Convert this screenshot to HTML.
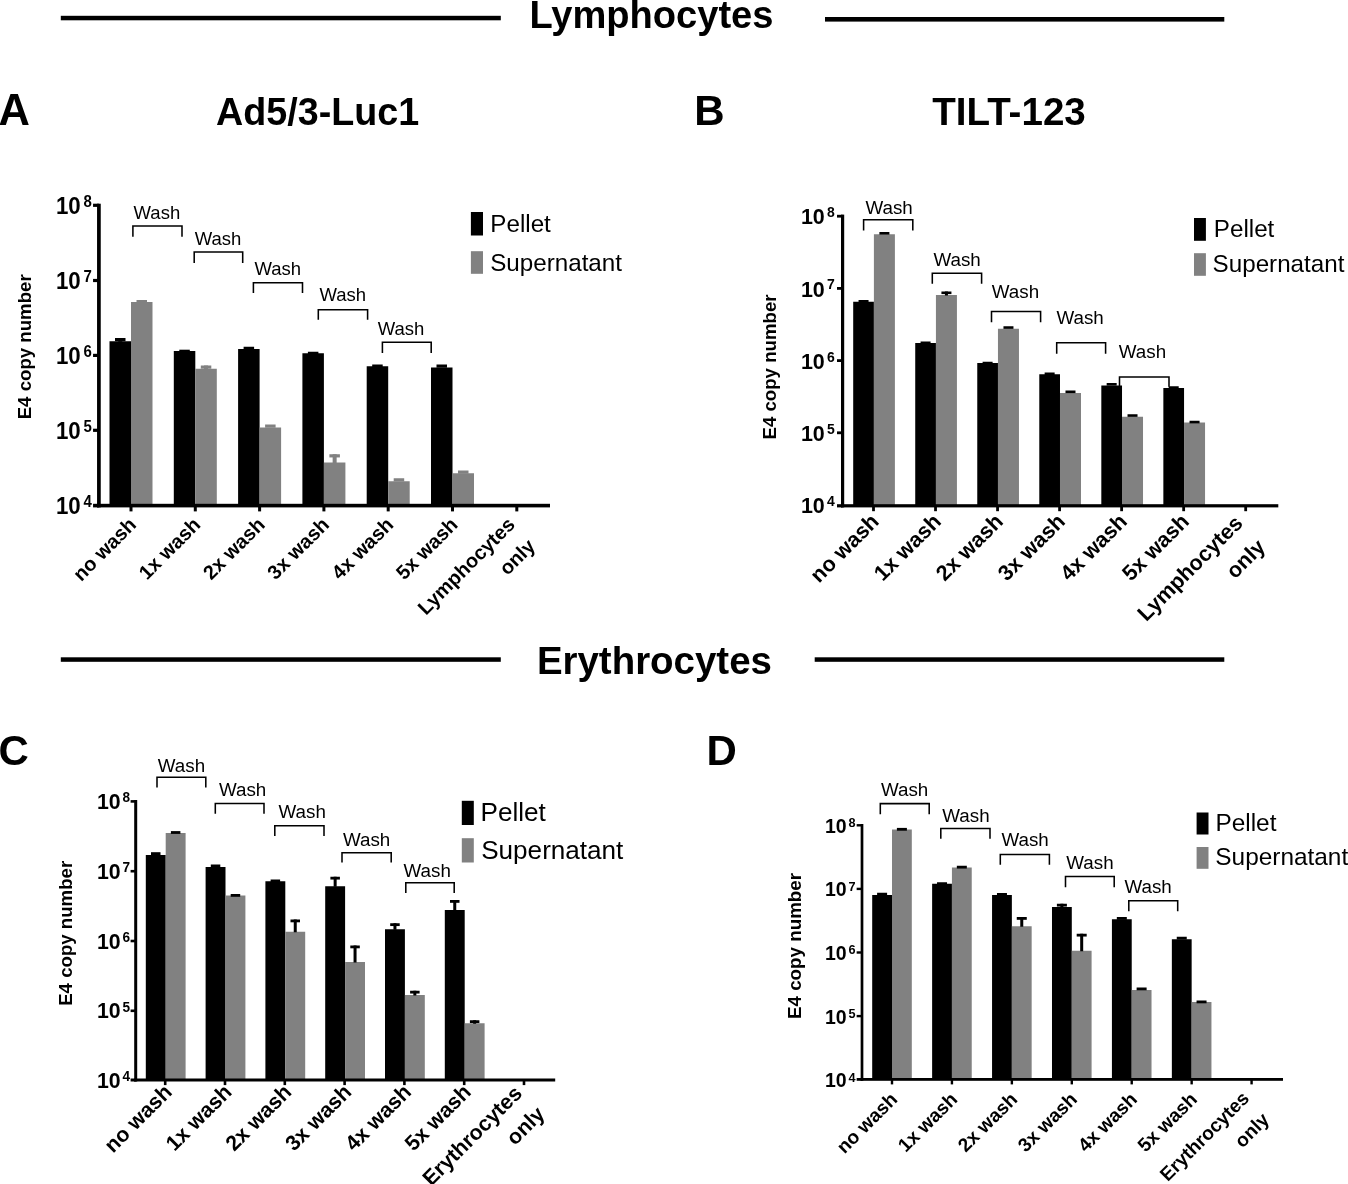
<!DOCTYPE html>
<html lang="en">
<head>
<meta charset="utf-8">
<title>E4 copy number after washing: lymphocytes and erythrocytes</title>
<style>
html,body{margin:0;padding:0;background:#fff;}
body{width:1348px;height:1184px;overflow:hidden;}
svg{display:block;}
svg text{font-family:"Liberation Sans",Arial,Helvetica,sans-serif;fill:#000;}
</style>
</head>
<body>
<svg width="1348" height="1184" viewBox="0 0 1348 1184" shape-rendering="auto">
<rect x="0" y="0" width="1348" height="1184" fill="#fff"/>
<rect x="60.8" y="15.8" width="440" height="4.5" fill="#000"/>
<rect x="825" y="17" width="399.3" height="4.6" fill="#000"/>
<text x="529.4" y="28.2" font-size="38.1" font-weight="bold">Lymphocytes</text>
<rect x="60.8" y="657.3" width="440" height="4.5" fill="#000"/>
<rect x="814.7" y="657.3" width="409.6" height="4.5" fill="#000"/>
<text x="536.9" y="674.3" font-size="38.45" font-weight="bold">Erythrocytes</text>
<text transform="translate(-1.5 125) scale(1 1.02)" font-size="43.5" font-weight="bold">A</text>
<text transform="translate(694.3 124.8) scale(1 1.03)" font-size="42" font-weight="bold">B</text>
<text transform="translate(-1.5 764.8) scale(1 1.03)" font-size="42" font-weight="bold">C</text>
<text transform="translate(706.5 764.6) scale(1 1.03)" font-size="42" font-weight="bold">D</text>
<text transform="translate(216 125.3) scale(1 1.05)" font-size="37.7" font-weight="bold">Ad5/3-Luc1</text>
<text x="932.2" y="124.7" font-size="38.6" font-weight="bold">TILT-123</text>
<rect x="109.5" y="341.25" width="21.5" height="164.35" fill="#000"/>
<rect x="115" y="338" width="10.5" height="3.2" fill="#000"/>
<rect x="118.25" y="338" width="4" height="3.75" fill="#000"/>
<rect x="131" y="302" width="21.5" height="203.6" fill="#818181"/>
<rect x="136.5" y="300" width="10.5" height="3.2" fill="#818181"/>
<rect x="173.8" y="351" width="21.5" height="154.6" fill="#000"/>
<rect x="179.3" y="349.7" width="10.5" height="3.2" fill="#000"/>
<rect x="195.3" y="368.75" width="21.5" height="136.85" fill="#818181"/>
<rect x="200.8" y="365.5" width="10.5" height="3.2" fill="#818181"/>
<rect x="204.05" y="365.5" width="4" height="3.75" fill="#818181"/>
<rect x="238.1" y="349" width="21.5" height="156.6" fill="#000"/>
<rect x="243.6" y="346.75" width="10.5" height="3.2" fill="#000"/>
<rect x="259.6" y="427.5" width="21.5" height="78.1" fill="#818181"/>
<rect x="265.1" y="424.5" width="10.5" height="3.2" fill="#818181"/>
<rect x="302.4" y="353.25" width="21.5" height="152.35" fill="#000"/>
<rect x="307.9" y="351.75" width="10.5" height="3.2" fill="#000"/>
<rect x="323.9" y="462.5" width="21.5" height="43.1" fill="#818181"/>
<rect x="329.4" y="454.25" width="10.5" height="3.2" fill="#818181"/>
<rect x="332.65" y="454.25" width="4" height="8.75" fill="#818181"/>
<rect x="366.7" y="366.25" width="21.5" height="139.35" fill="#000"/>
<rect x="372.2" y="364.5" width="10.5" height="3.2" fill="#000"/>
<rect x="388.2" y="481.25" width="21.5" height="24.35" fill="#818181"/>
<rect x="393.7" y="478.25" width="10.5" height="3.2" fill="#818181"/>
<rect x="431" y="367.5" width="21.5" height="138.1" fill="#000"/>
<rect x="436.5" y="364.5" width="10.5" height="3.2" fill="#000"/>
<rect x="452.5" y="473.25" width="21.5" height="32.35" fill="#818181"/>
<rect x="458" y="470.5" width="10.5" height="3.2" fill="#818181"/>
<rect x="97.05" y="203.7" width="3.7" height="303.7" fill="#000"/>
<rect x="97.05" y="503.8" width="452.95" height="3.6" fill="#000"/>
<rect x="93.05" y="203.7" width="5.85" height="3.2" fill="#000"/>
<text transform="translate(55.9 213.8) scale(1 1.045)" font-size="22.3" font-weight="bold">10<tspan dx="2.8" dy="-6.99" font-size="15">8</tspan></text>
<rect x="93.05" y="278.9" width="5.85" height="3.2" fill="#000"/>
<text transform="translate(55.9 289) scale(1 1.045)" font-size="22.3" font-weight="bold">10<tspan dx="2.8" dy="-6.99" font-size="15">7</tspan></text>
<rect x="93.05" y="353.8" width="5.85" height="3.2" fill="#000"/>
<text transform="translate(55.9 363.9) scale(1 1.045)" font-size="22.3" font-weight="bold">10<tspan dx="2.8" dy="-6.99" font-size="15">6</tspan></text>
<rect x="93.05" y="428.7" width="5.85" height="3.2" fill="#000"/>
<text transform="translate(55.9 438.8) scale(1 1.045)" font-size="22.3" font-weight="bold">10<tspan dx="2.8" dy="-6.99" font-size="15">5</tspan></text>
<rect x="93.05" y="503.8" width="5.85" height="3.6" fill="#000"/>
<text transform="translate(55.9 513.8) scale(1 1.045)" font-size="22.3" font-weight="bold">10<tspan dx="2.8" dy="-6.99" font-size="15">4</tspan></text>
<rect x="129.5" y="505.6" width="3" height="5.8" fill="#000"/>
<text transform="translate(137.4 525.9) rotate(-45)" font-size="19.9" font-weight="bold" text-anchor="end">no wash</text>
<rect x="193.8" y="505.6" width="3" height="5.8" fill="#000"/>
<text transform="translate(201.7 525.9) rotate(-45)" font-size="19.9" font-weight="bold" text-anchor="end">1x wash</text>
<rect x="258.1" y="505.6" width="3" height="5.8" fill="#000"/>
<text transform="translate(266 525.9) rotate(-45)" font-size="19.9" font-weight="bold" text-anchor="end">2x wash</text>
<rect x="322.4" y="505.6" width="3" height="5.8" fill="#000"/>
<text transform="translate(330.3 525.9) rotate(-45)" font-size="19.9" font-weight="bold" text-anchor="end">3x wash</text>
<rect x="386.7" y="505.6" width="3" height="5.8" fill="#000"/>
<text transform="translate(394.6 525.9) rotate(-45)" font-size="19.9" font-weight="bold" text-anchor="end">4x wash</text>
<rect x="451" y="505.6" width="3" height="5.8" fill="#000"/>
<text transform="translate(458.9 525.9) rotate(-45)" font-size="19.9" font-weight="bold" text-anchor="end">5x wash</text>
<rect x="515.3" y="505.6" width="3" height="5.8" fill="#000"/>
<text transform="translate(516.1 525.8) rotate(-45)" font-size="19.9" font-weight="bold" text-anchor="end">Lymphocytes</text>
<text transform="translate(536.3 547.4) rotate(-45)" font-size="19.9" font-weight="bold" text-anchor="end">only</text>
<text transform="translate(30.9 346.8) rotate(-90)" font-size="18.65" font-weight="bold" text-anchor="middle">E4 copy number</text>
<path d="M132.9 236.8V225.9H182V236.8" fill="none" stroke="#000" stroke-width="1.55"/>
<text x="133.6" y="218.8" font-size="18.5">Wash</text>
<path d="M194.2 263V252H242.7V263" fill="none" stroke="#000" stroke-width="1.55"/>
<text x="194.8" y="244.5" font-size="18.5">Wash</text>
<path d="M253.4 293V282.8H302.5V293" fill="none" stroke="#000" stroke-width="1.55"/>
<text x="254.4" y="275" font-size="18.5">Wash</text>
<path d="M318.3 319.8V309.8H367.6V319.8" fill="none" stroke="#000" stroke-width="1.55"/>
<text x="319.4" y="300.75" font-size="18.5">Wash</text>
<path d="M382.4 353V342.3H431.2V353" fill="none" stroke="#000" stroke-width="1.55"/>
<text x="377.8" y="335" font-size="18.5">Wash</text>
<rect x="470.9" y="212" width="12.1" height="23.5" fill="#000"/>
<rect x="470.9" y="251.2" width="12.1" height="22.6" fill="#818181"/>
<text x="490.3" y="231.75" font-size="24.2">Pellet</text>
<text x="490.2" y="270.5" font-size="24.2">Supernatant</text>
<rect x="853.2" y="301.75" width="20.7" height="204.05" fill="#000"/>
<rect x="858.55" y="300" width="10" height="2.6" fill="#000"/>
<rect x="873.9" y="234.25" width="21" height="271.55" fill="#818181"/>
<rect x="879.4" y="232" width="10" height="2.6" fill="#000"/>
<rect x="915.23" y="343" width="20.7" height="162.8" fill="#000"/>
<rect x="920.58" y="341.5" width="10" height="2.6" fill="#000"/>
<rect x="935.93" y="295" width="21" height="210.8" fill="#818181"/>
<rect x="941.43" y="291.5" width="10" height="2.6" fill="#000"/>
<rect x="944.93" y="291.5" width="3" height="4" fill="#000"/>
<rect x="977.26" y="363" width="20.7" height="142.8" fill="#000"/>
<rect x="982.61" y="361.75" width="10" height="2.6" fill="#000"/>
<rect x="997.96" y="328.75" width="21" height="177.05" fill="#818181"/>
<rect x="1003.46" y="326.25" width="10" height="2.6" fill="#000"/>
<rect x="1039.29" y="374.25" width="20.7" height="131.55" fill="#000"/>
<rect x="1044.64" y="372.5" width="10" height="2.6" fill="#000"/>
<rect x="1059.99" y="393" width="21" height="112.8" fill="#818181"/>
<rect x="1065.49" y="390.5" width="10" height="2.6" fill="#000"/>
<rect x="1101.32" y="385.5" width="20.7" height="120.3" fill="#000"/>
<rect x="1106.67" y="383" width="10" height="2.6" fill="#000"/>
<rect x="1122.02" y="416.75" width="21" height="89.05" fill="#818181"/>
<rect x="1127.52" y="414.25" width="10" height="2.6" fill="#000"/>
<rect x="1163.35" y="388" width="20.7" height="117.8" fill="#000"/>
<rect x="1168.7" y="386.25" width="10" height="2.6" fill="#000"/>
<rect x="1184.05" y="422.5" width="21" height="83.3" fill="#818181"/>
<rect x="1189.55" y="420.75" width="10" height="2.6" fill="#000"/>
<rect x="841" y="214.6" width="3.2" height="292.8" fill="#000"/>
<rect x="841" y="504.2" width="437.3" height="3.2" fill="#000"/>
<rect x="837" y="214.8" width="5.6" height="2.8" fill="#000"/>
<text transform="translate(800.9 224.4) scale(1 1.045)" font-size="21.5" font-weight="bold">10<tspan dx="2.3" dy="-6.89" font-size="14">8</tspan></text>
<rect x="837" y="287" width="5.6" height="2.8" fill="#000"/>
<text transform="translate(800.9 296.6) scale(1 1.045)" font-size="21.5" font-weight="bold">10<tspan dx="2.3" dy="-6.89" font-size="14">7</tspan></text>
<rect x="837" y="359.2" width="5.6" height="2.8" fill="#000"/>
<text transform="translate(800.9 368.8) scale(1 1.045)" font-size="21.5" font-weight="bold">10<tspan dx="2.3" dy="-6.89" font-size="14">6</tspan></text>
<rect x="837" y="431.4" width="5.6" height="2.8" fill="#000"/>
<text transform="translate(800.9 441) scale(1 1.045)" font-size="21.5" font-weight="bold">10<tspan dx="2.3" dy="-6.89" font-size="14">5</tspan></text>
<rect x="837" y="504.2" width="5.6" height="3.2" fill="#000"/>
<text transform="translate(800.9 513.2) scale(1 1.045)" font-size="21.5" font-weight="bold">10<tspan dx="2.3" dy="-6.89" font-size="14">4</tspan></text>
<rect x="872.1" y="505.8" width="2.8" height="5.4" fill="#000"/>
<text transform="translate(880.2 522.6) rotate(-45)" font-size="21.6" font-weight="bold" text-anchor="end">no wash</text>
<rect x="934.13" y="505.8" width="2.8" height="5.4" fill="#000"/>
<text transform="translate(942.23 522.6) rotate(-45)" font-size="21.6" font-weight="bold" text-anchor="end">1x wash</text>
<rect x="996.16" y="505.8" width="2.8" height="5.4" fill="#000"/>
<text transform="translate(1004.26 522.6) rotate(-45)" font-size="21.6" font-weight="bold" text-anchor="end">2x wash</text>
<rect x="1058.19" y="505.8" width="2.8" height="5.4" fill="#000"/>
<text transform="translate(1066.29 522.6) rotate(-45)" font-size="21.6" font-weight="bold" text-anchor="end">3x wash</text>
<rect x="1120.22" y="505.8" width="2.8" height="5.4" fill="#000"/>
<text transform="translate(1128.32 522.6) rotate(-45)" font-size="21.6" font-weight="bold" text-anchor="end">4x wash</text>
<rect x="1182.25" y="505.8" width="2.8" height="5.4" fill="#000"/>
<text transform="translate(1190.35 522.6) rotate(-45)" font-size="21.6" font-weight="bold" text-anchor="end">5x wash</text>
<rect x="1244.28" y="505.8" width="2.8" height="5.4" fill="#000"/>
<text transform="translate(1244 524.5) rotate(-45)" font-size="21.6" font-weight="bold" text-anchor="end">Lymphocytes</text>
<text transform="translate(1266.4 548.3) rotate(-45)" font-size="21.6" font-weight="bold" text-anchor="end">only</text>
<text transform="translate(776.2 367) rotate(-90)" font-size="18.65" font-weight="bold" text-anchor="middle">E4 copy number</text>
<path d="M863.6 230.5V219.8H912.8V230.5" fill="none" stroke="#000" stroke-width="1.55"/>
<text x="865.5" y="213.75" font-size="18.8">Wash</text>
<path d="M932.3 283.8V273.3H981.6V283.8" fill="none" stroke="#000" stroke-width="1.55"/>
<text x="933.5" y="265.5" font-size="18.8">Wash</text>
<path d="M991.5 322.3V311.5H1040.6V322.3" fill="none" stroke="#000" stroke-width="1.55"/>
<text x="991.8" y="298" font-size="18.8">Wash</text>
<path d="M1056.7 353.8V342.8H1105.6V353.8" fill="none" stroke="#000" stroke-width="1.55"/>
<text x="1056.5" y="323.75" font-size="18.8">Wash</text>
<path d="M1119.5 386.8V377H1169V386.8" fill="none" stroke="#000" stroke-width="1.55"/>
<text x="1118.8" y="358" font-size="18.8">Wash</text>
<rect x="1194" y="218" width="11.9" height="22.8" fill="#000"/>
<rect x="1194" y="253.2" width="11.9" height="22.6" fill="#818181"/>
<text x="1213.8" y="237" font-size="24.2">Pellet</text>
<text x="1212.6" y="272" font-size="24.2">Supernatant</text>
<rect x="145.8" y="855" width="19.9" height="225" fill="#000"/>
<rect x="151" y="852.2" width="9.5" height="2.8" fill="#000"/>
<rect x="165.7" y="833" width="19.9" height="247" fill="#818181"/>
<rect x="170.9" y="831.1" width="9.5" height="2.8" fill="#000"/>
<rect x="205.6" y="867" width="19.9" height="213" fill="#000"/>
<rect x="210.8" y="864.5" width="9.5" height="2.8" fill="#000"/>
<rect x="225.5" y="895.5" width="19.9" height="184.5" fill="#818181"/>
<rect x="230.7" y="894" width="9.5" height="2.8" fill="#000"/>
<rect x="265.4" y="881.25" width="19.9" height="198.75" fill="#000"/>
<rect x="270.6" y="879.5" width="9.5" height="2.8" fill="#000"/>
<rect x="285.3" y="931.75" width="19.9" height="148.25" fill="#818181"/>
<rect x="290.5" y="919.5" width="9.5" height="2.8" fill="#000"/>
<rect x="293.75" y="919.5" width="3" height="12.75" fill="#000"/>
<rect x="325.2" y="886.25" width="19.9" height="193.75" fill="#000"/>
<rect x="330.4" y="876.75" width="9.5" height="2.8" fill="#000"/>
<rect x="333.65" y="876.75" width="3" height="10" fill="#000"/>
<rect x="345.1" y="962" width="19.9" height="118" fill="#818181"/>
<rect x="350.3" y="945.5" width="9.5" height="2.8" fill="#000"/>
<rect x="353.55" y="945.5" width="3" height="17" fill="#000"/>
<rect x="385" y="929.25" width="19.9" height="150.75" fill="#000"/>
<rect x="390.2" y="923.25" width="9.5" height="2.8" fill="#000"/>
<rect x="393.45" y="923.25" width="3" height="6.5" fill="#000"/>
<rect x="404.9" y="995" width="19.9" height="85" fill="#818181"/>
<rect x="410.1" y="990.75" width="9.5" height="2.8" fill="#000"/>
<rect x="413.35" y="990.75" width="3" height="4.75" fill="#000"/>
<rect x="444.8" y="910" width="19.9" height="170" fill="#000"/>
<rect x="450" y="900" width="9.5" height="2.8" fill="#000"/>
<rect x="453.25" y="900" width="3" height="10.5" fill="#000"/>
<rect x="464.7" y="1023.25" width="19.9" height="56.75" fill="#818181"/>
<rect x="469.9" y="1020.25" width="9.5" height="2.8" fill="#000"/>
<rect x="473.15" y="1020.25" width="3" height="3.5" fill="#000"/>
<rect x="134.2" y="800" width="3" height="281.5" fill="#000"/>
<rect x="134.2" y="1078.5" width="421" height="3" fill="#000"/>
<rect x="130.6" y="800.1" width="5.1" height="2.6" fill="#000"/>
<text transform="translate(96.9 809) scale(1 1.07)" font-size="21.3" font-weight="bold">10<tspan dx="1.8" dy="-6.36" font-size="13.6">8</tspan></text>
<rect x="130.6" y="869.9" width="5.1" height="2.6" fill="#000"/>
<text transform="translate(96.9 878.8) scale(1 1.07)" font-size="21.3" font-weight="bold">10<tspan dx="1.8" dy="-6.36" font-size="13.6">7</tspan></text>
<rect x="130.6" y="939.7" width="5.1" height="2.6" fill="#000"/>
<text transform="translate(96.9 948.6) scale(1 1.07)" font-size="21.3" font-weight="bold">10<tspan dx="1.8" dy="-6.36" font-size="13.6">6</tspan></text>
<rect x="130.6" y="1009.5" width="5.1" height="2.6" fill="#000"/>
<text transform="translate(96.9 1018.4) scale(1 1.07)" font-size="21.3" font-weight="bold">10<tspan dx="1.8" dy="-6.36" font-size="13.6">5</tspan></text>
<rect x="130.6" y="1078.5" width="5.1" height="3" fill="#000"/>
<text transform="translate(96.9 1088.2) scale(1 1.07)" font-size="21.3" font-weight="bold">10<tspan dx="1.8" dy="-6.36" font-size="13.6">4</tspan></text>
<rect x="163.9" y="1080" width="2.6" height="5.1" fill="#000"/>
<text transform="translate(173.2 1093.4) rotate(-45)" font-size="21.3" font-weight="bold" text-anchor="end">no wash</text>
<rect x="223.7" y="1080" width="2.6" height="5.1" fill="#000"/>
<text transform="translate(233 1093.4) rotate(-45)" font-size="21.3" font-weight="bold" text-anchor="end">1x wash</text>
<rect x="283.5" y="1080" width="2.6" height="5.1" fill="#000"/>
<text transform="translate(292.8 1093.4) rotate(-45)" font-size="21.3" font-weight="bold" text-anchor="end">2x wash</text>
<rect x="343.3" y="1080" width="2.6" height="5.1" fill="#000"/>
<text transform="translate(352.6 1093.4) rotate(-45)" font-size="21.3" font-weight="bold" text-anchor="end">3x wash</text>
<rect x="403.1" y="1080" width="2.6" height="5.1" fill="#000"/>
<text transform="translate(412.4 1093.4) rotate(-45)" font-size="21.3" font-weight="bold" text-anchor="end">4x wash</text>
<rect x="462.9" y="1080" width="2.6" height="5.1" fill="#000"/>
<text transform="translate(472.2 1093.4) rotate(-45)" font-size="21.3" font-weight="bold" text-anchor="end">5x wash</text>
<rect x="522.7" y="1080" width="2.6" height="5.1" fill="#000"/>
<text transform="translate(523.3 1094.7) rotate(-45)" font-size="21.3" font-weight="bold" text-anchor="end">Erythrocytes</text>
<text transform="translate(545.9 1115.3) rotate(-45)" font-size="21.3" font-weight="bold" text-anchor="end">only</text>
<text transform="translate(72 933.3) rotate(-90)" font-size="18.65" font-weight="bold" text-anchor="middle">E4 copy number</text>
<path d="M157 787.5V777.3H205.8V787.5" fill="none" stroke="#000" stroke-width="1.55"/>
<text x="157.8" y="772" font-size="18.8">Wash</text>
<path d="M215.3 813.8V803.5H264V813.8" fill="none" stroke="#000" stroke-width="1.55"/>
<text x="219" y="795.5" font-size="18.8">Wash</text>
<path d="M274.8 836V825.8H324V836" fill="none" stroke="#000" stroke-width="1.55"/>
<text x="278.6" y="818.25" font-size="18.8">Wash</text>
<path d="M342 862.5V852.8H391.2V862.5" fill="none" stroke="#000" stroke-width="1.55"/>
<text x="343" y="845.5" font-size="18.8">Wash</text>
<path d="M405.8 893V882.8H454.2V893" fill="none" stroke="#000" stroke-width="1.55"/>
<text x="403.6" y="876.75" font-size="18.8">Wash</text>
<rect x="461.8" y="800.8" width="12" height="24.2" fill="#000"/>
<rect x="461.8" y="838.2" width="12" height="24.3" fill="#818181"/>
<text x="480.6" y="821.25" font-size="26.1">Pellet</text>
<text x="481.2" y="858.75" font-size="26.1">Supernatant</text>
<rect x="872.2" y="895" width="19.8" height="184.4" fill="#000"/>
<rect x="877.1" y="892.75" width="10" height="2.8" fill="#000"/>
<rect x="892" y="829.5" width="19.8" height="249.9" fill="#818181"/>
<rect x="896.9" y="827.9" width="10" height="2.8" fill="#000"/>
<rect x="932.13" y="883.75" width="19.8" height="195.65" fill="#000"/>
<rect x="937.03" y="882.25" width="10" height="2.8" fill="#000"/>
<rect x="951.93" y="867.5" width="19.8" height="211.9" fill="#818181"/>
<rect x="956.83" y="865.75" width="10" height="2.8" fill="#000"/>
<rect x="992.06" y="895" width="19.8" height="184.4" fill="#000"/>
<rect x="996.96" y="893" width="10" height="2.8" fill="#000"/>
<rect x="1011.86" y="926.25" width="19.8" height="153.15" fill="#818181"/>
<rect x="1016.76" y="917" width="10" height="2.8" fill="#000"/>
<rect x="1020.26" y="917" width="3" height="9.75" fill="#000"/>
<rect x="1051.99" y="907" width="19.8" height="172.4" fill="#000"/>
<rect x="1056.89" y="903.75" width="10" height="2.8" fill="#000"/>
<rect x="1060.39" y="903.75" width="3" height="3.75" fill="#000"/>
<rect x="1071.79" y="950.75" width="19.8" height="128.65" fill="#818181"/>
<rect x="1076.69" y="933.75" width="10" height="2.8" fill="#000"/>
<rect x="1080.19" y="933.75" width="3" height="17.5" fill="#000"/>
<rect x="1111.92" y="919.25" width="19.8" height="160.15" fill="#000"/>
<rect x="1116.82" y="917" width="10" height="2.8" fill="#000"/>
<rect x="1131.72" y="990" width="19.8" height="89.4" fill="#818181"/>
<rect x="1136.62" y="987.5" width="10" height="2.8" fill="#000"/>
<rect x="1171.85" y="939.25" width="19.8" height="140.15" fill="#000"/>
<rect x="1176.75" y="936.75" width="10" height="2.8" fill="#000"/>
<rect x="1191.65" y="1002" width="19.8" height="77.4" fill="#818181"/>
<rect x="1196.55" y="1000.5" width="10" height="2.8" fill="#000"/>
<rect x="860.65" y="824" width="2.7" height="256.8" fill="#000"/>
<rect x="860.65" y="1078" width="422.35" height="2.8" fill="#000"/>
<rect x="856.65" y="824.1" width="5.35" height="2.4" fill="#000"/>
<text transform="translate(825 832.8) scale(1 1.06)" font-size="19.5" font-weight="bold">10<tspan dx="1.7" dy="-5.28" font-size="12.7">8</tspan></text>
<rect x="856.65" y="887.7" width="5.35" height="2.4" fill="#000"/>
<text transform="translate(825 896.4) scale(1 1.06)" font-size="19.5" font-weight="bold">10<tspan dx="1.7" dy="-5.28" font-size="12.7">7</tspan></text>
<rect x="856.65" y="951.3" width="5.35" height="2.4" fill="#000"/>
<text transform="translate(825 960) scale(1 1.06)" font-size="19.5" font-weight="bold">10<tspan dx="1.7" dy="-5.28" font-size="12.7">6</tspan></text>
<rect x="856.65" y="1014.9" width="5.35" height="2.4" fill="#000"/>
<text transform="translate(825 1023.6) scale(1 1.06)" font-size="19.5" font-weight="bold">10<tspan dx="1.7" dy="-5.28" font-size="12.7">5</tspan></text>
<rect x="856.65" y="1078" width="5.35" height="2.8" fill="#000"/>
<text transform="translate(825 1087.2) scale(1 1.06)" font-size="19.5" font-weight="bold">10<tspan dx="1.7" dy="-5.28" font-size="12.7">4</tspan></text>
<rect x="890.8" y="1079.4" width="2.4" height="5" fill="#000"/>
<text transform="translate(898.6 1100.4) rotate(-45)" font-size="19.15" font-weight="bold" text-anchor="end">no wash</text>
<rect x="950.73" y="1079.4" width="2.4" height="5" fill="#000"/>
<text transform="translate(958.53 1100.4) rotate(-45)" font-size="19.15" font-weight="bold" text-anchor="end">1x wash</text>
<rect x="1010.66" y="1079.4" width="2.4" height="5" fill="#000"/>
<text transform="translate(1018.46 1100.4) rotate(-45)" font-size="19.15" font-weight="bold" text-anchor="end">2x wash</text>
<rect x="1070.59" y="1079.4" width="2.4" height="5" fill="#000"/>
<text transform="translate(1078.39 1100.4) rotate(-45)" font-size="19.15" font-weight="bold" text-anchor="end">3x wash</text>
<rect x="1130.52" y="1079.4" width="2.4" height="5" fill="#000"/>
<text transform="translate(1138.32 1100.4) rotate(-45)" font-size="19.15" font-weight="bold" text-anchor="end">4x wash</text>
<rect x="1190.45" y="1079.4" width="2.4" height="5" fill="#000"/>
<text transform="translate(1198.25 1100.4) rotate(-45)" font-size="19.15" font-weight="bold" text-anchor="end">5x wash</text>
<rect x="1250.38" y="1079.4" width="2.4" height="5" fill="#000"/>
<text transform="translate(1250.4 1099.4) rotate(-45)" font-size="19.15" font-weight="bold" text-anchor="end">Erythrocytes</text>
<text transform="translate(1270.4 1120.8) rotate(-45)" font-size="19.15" font-weight="bold" text-anchor="end">only</text>
<text transform="translate(800.8 946) rotate(-90)" font-size="18.8" font-weight="bold" text-anchor="middle">E4 copy number</text>
<path d="M880.3 814.3V803.6H929.2V814.3" fill="none" stroke="#000" stroke-width="1.55"/>
<text x="881" y="795.5" font-size="18.8">Wash</text>
<path d="M940.8 838.8V828.5H990V838.8" fill="none" stroke="#000" stroke-width="1.55"/>
<text x="942.3" y="821.75" font-size="18.8">Wash</text>
<path d="M1000.3 864.8V854.5H1049.4V864.8" fill="none" stroke="#000" stroke-width="1.55"/>
<text x="1001.5" y="846.25" font-size="18.8">Wash</text>
<path d="M1065.5 887.3V876.5H1114.2V887.3" fill="none" stroke="#000" stroke-width="1.55"/>
<text x="1066.3" y="868.75" font-size="18.8">Wash</text>
<path d="M1128.8 911.3V900.8H1177.7V911.3" fill="none" stroke="#000" stroke-width="1.55"/>
<text x="1124.5" y="892.5" font-size="18.8">Wash</text>
<rect x="1196.6" y="812.5" width="11.9" height="22" fill="#000"/>
<rect x="1196.6" y="847" width="11.9" height="21.8" fill="#818181"/>
<text x="1215.4" y="830.5" font-size="24.4">Pellet</text>
<text x="1215.3" y="864.5" font-size="24.4">Supernatant</text>
</svg>
</body>
</html>
